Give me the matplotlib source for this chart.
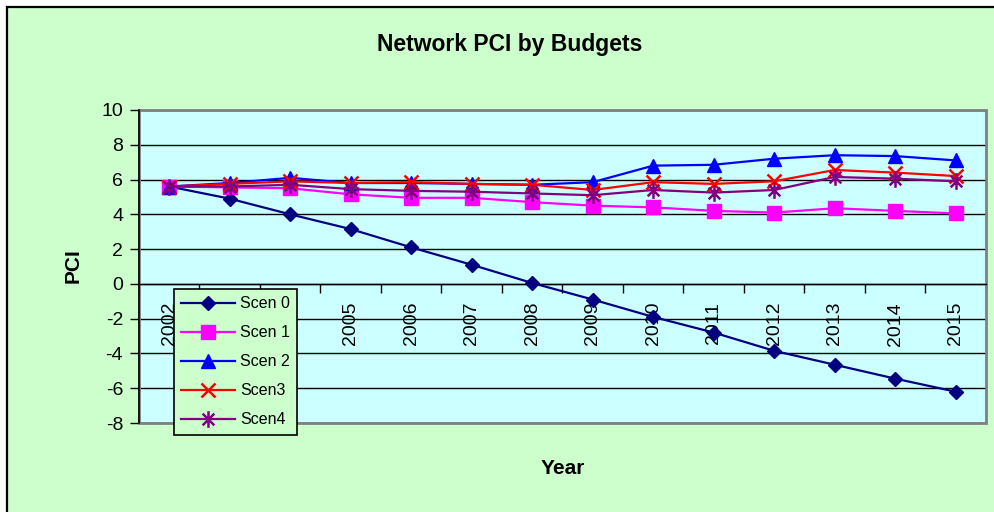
import matplotlib
matplotlib.use('Agg')
import matplotlib.pyplot as plt
from matplotlib.patches import Rectangle
from matplotlib.path import Path
import numpy as np

plt.rcParams['font.family'] = ['Liberation Sans', 'DejaVu Sans']
plt.rcParams['axes.unicode_minus'] = False

years = ['2002', '2003', '2004', '2005', '2006', '2007', '2008',
         '2009', '2010', '2011', '2012', '2013', '2014', '2015']
scen0 = [5.6, 4.9, 4.0, 3.15, 2.1, 1.1, 0.05, -0.9, -1.9, -2.8, -3.85, -4.65, -5.45, -6.2]
scen1 = [5.6, 5.55, 5.5, 5.15, 4.95, 4.95, 4.7, 4.5, 4.4, 4.2, 4.1, 4.35, 4.2, 4.05]
scen2 = [5.6, 5.8, 6.1, 5.8, 5.8, 5.75, 5.7, 5.85, 6.8, 6.85, 7.2, 7.4, 7.35, 7.1]
scen3 = [5.6, 5.75, 5.9, 5.8, 5.85, 5.75, 5.7, 5.4, 5.85, 5.75, 5.9, 6.55, 6.4, 6.2]
scen4 = [5.6, 5.6, 5.7, 5.45, 5.35, 5.3, 5.2, 5.1, 5.4, 5.25, 5.4, 6.15, 6.05, 5.9]

labels = ['Scen 0', 'Scen 1', 'Scen 2', 'Scen3', 'Scen4']
colors = ['#000080', '#FF00FF', '#0000FF', '#FF0000', '#800080']

# excel style asterisk: an x with a vertical bar through it
star = Path([(-0.7, -0.7), (0.7, 0.7), (-0.7, 0.7), (0.7, -0.7), (0, -1), (0, 1)],
            [Path.MOVETO, Path.LINETO, Path.MOVETO, Path.LINETO, Path.MOVETO, Path.LINETO])
markers = ['D', 's', '^', 'x', star]
msizes = [7.6, 10, 10.5, 9.5, 12]

fig = plt.figure(figsize=(9.95, 5.12), dpi=100, facecolor='white')
fig.patches.append(Rectangle((7 / 995, -0.1), 1.2, 1.1 - 7 / 512, transform=fig.transFigure,
                             facecolor='#CCFFCC', edgecolor='black', linewidth=1.6, zorder=-5))

ax = fig.add_axes([139 / 995, 89 / 512, 847 / 995, 313 / 512])
ax.set_facecolor('#CCFFFF')

x = np.arange(len(years))
for vals, lab, c, m, ms in zip([scen0, scen1, scen2, scen3, scen4], labels, colors, markers, msizes):
    thin = isinstance(m, str) and m != 'x'
    ax.plot(x, vals, color=c, marker=m, markersize=ms, linewidth=1.6, label=lab,
            markeredgewidth=1 if thin else 1.8, clip_on=False, zorder=3)

ax.set_xlim(-0.5, len(years) - 0.5)
ax.set_ylim(-8, 10)
ax.set_yticks(np.arange(-8, 11, 2))
ax.tick_params(axis='y', direction='out', length=6.5, width=1, labelsize=14, pad=5)
ax.yaxis.grid(True, color='black', linewidth=1)
ax.set_axisbelow(True)

# x axis crosses at 0, gray frame drawn as plot-area border
ax.spines['bottom'].set_position(('data', 0))
ax.spines['bottom'].set_linewidth(1)
ax.spines['left'].set_linewidth(1.2)
ax.spines['top'].set_visible(False)
ax.spines['right'].set_visible(False)
ax.add_patch(Rectangle((0, 0), 1, 1, transform=ax.transAxes, fill=False,
                       edgecolor='#808080', linewidth=2, clip_on=False, zorder=1))
ax.spines['left'].set_zorder(2)

ax.set_xticks(x)
ax.set_xticklabels(years, rotation=90, fontsize=14)
ax.set_xticks(np.arange(-0.5, len(years), 1), minor=True)
ax.tick_params(axis='x', which='major', length=0, pad=13)
ax.tick_params(axis='x', which='minor', direction='out', length=6.5, width=1)

fig.text(0.512, 1 - 44 / 512, 'Network PCI by Budgets', ha='center', va='center',
         fontsize=16.5, fontweight='bold')
fig.text(73 / 995, 1 - 266 / 512, 'PCI', rotation=90, ha='center', va='center',
         fontsize=15, fontweight='bold')
fig.text(563 / 995, 1 - 469 / 512, 'Year', ha='center', va='center',
         fontsize=15, fontweight='bold')

leg = ax.legend(loc='upper left', bbox_to_anchor=(35 / 847, 134 / 313), borderaxespad=0,
                fontsize=11.5, fancybox=False, framealpha=1, facecolor='#CCFFCC',
                edgecolor='black', handlelength=3.4, handletextpad=0.3,
                labelspacing=0.88, borderpad=0.45)
leg.get_frame().set_linewidth(1.2)
leg.set_zorder(5)

fig.savefig('out.png', dpi=100, facecolor=fig.get_facecolor())
